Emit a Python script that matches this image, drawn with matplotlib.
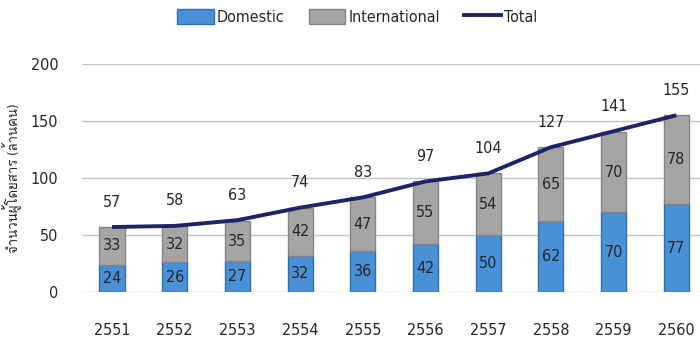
import matplotlib
matplotlib.use("Agg")
import matplotlib.pyplot as plt
from matplotlib import font_manager as fm
from matplotlib.ft2font import FT2Font
from matplotlib.patches import Patch
from matplotlib.lines import Line2D

years = ["2551", "2552", "2553", "2554", "2555", "2556", "2557", "2558", "2559", "2560"]
domestic = [24, 26, 27, 32, 36, 42, 50, 62, 70, 77]
international = [33, 32, 35, 42, 47, 55, 54, 65, 70, 78]
total = [57, 58, 63, 74, 83, 97, 104, 127, 141, 155]
ylabel = "จำนวนผู้โดยสาร (ล้านคน)"

BLUE = "#4a90d6"
BLUE_EDGE = "#2f6db0"
GRAY = "#a5a5a5"
GRAY_EDGE = "#858585"
NAVY = "#1c2366"
TXT = "#262626"

# find a font that can draw Thai
thai_font = None
for f in fm.fontManager.ttflist:
    try:
        if ord("จ") in FT2Font(f.fname).get_charmap():
            thai_font = f.name
            break
    except Exception:
        pass

fams = ["DejaVu Sans"]
if thai_font:
    fams.append(thai_font)
plt.rcParams["font.family"] = fams
plt.rcParams["font.stretch"] = "condensed"

fig = plt.figure(figsize=(7, 3.4), dpi=100)
ax = fig.add_axes([0.117, 0.141, 0.894, 0.671])

x = list(range(len(years)))
w = 0.4
ax.bar(x, domestic, w, color=BLUE, edgecolor=BLUE_EDGE, linewidth=1, zorder=2)
ax.bar(x, international, w, bottom=domestic, color=GRAY, edgecolor=GRAY_EDGE,
       linewidth=1, zorder=2)
ax.plot(x, total, color=NAVY, lw=2.8, zorder=3, solid_capstyle="butt")

for i in x:
    ax.text(i, domestic[i] / 2, str(domestic[i]), ha="center", va="center",
            fontsize=11.5, color=TXT, zorder=4)
    ax.text(i, domestic[i] + international[i] / 2, str(international[i]),
            ha="center", va="center", fontsize=11.5, color=TXT, zorder=4)
    ax.annotate(str(total[i]), (i, total[i]), textcoords="offset points",
                xytext=(0, 18), ha="center", va="center", fontsize=11.5,
                color=TXT, zorder=4)

ax.set_xlim(-0.48, 9.5)
ax.set_ylim(0, 200)
ax.set_yticks([0, 50, 100, 150, 200])
ax.set_xticks(x)
ax.set_xticklabels(years)
ax.yaxis.grid(True, color="#c4c4c4", lw=1)
ax.set_axisbelow(True)
for s in ax.spines.values():
    s.set_visible(False)
ax.tick_params(axis="y", length=0, pad=17, labelsize=11.5, labelcolor=TXT)
ax.tick_params(axis="x", length=0, pad=22, labelsize=11.5, labelcolor=TXT)
ax.set_ylabel(ylabel, fontsize=9.5, color=TXT, labelpad=6)

handles = [Patch(facecolor=BLUE, edgecolor=BLUE_EDGE, label="Domestic"),
           Patch(facecolor=GRAY, edgecolor=GRAY_EDGE, label="International"),
           Line2D([], [], color=NAVY, lw=2.8, label="Total")]
fig.legend(handles=handles, loc="center", bbox_to_anchor=(0.51, 0.95), ncol=3,
           frameon=False, fontsize=11.5, handlelength=2.3, handleheight=1.1,
           handletextpad=0.2, columnspacing=1.5, labelcolor=TXT)

fig.savefig("out.png", dpi=100)
